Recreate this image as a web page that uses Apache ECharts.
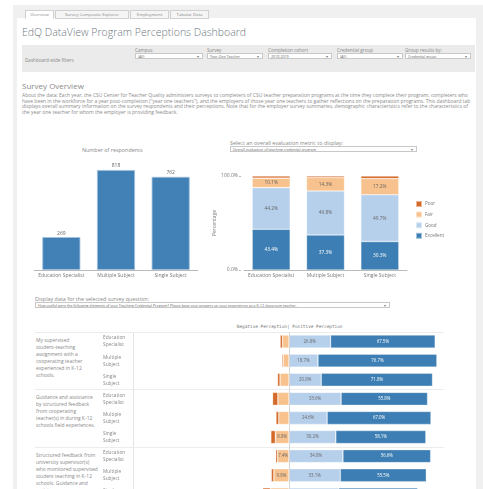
<!DOCTYPE html>
<html>
<head>
<meta charset="utf-8">
<script src="https://cdn.jsdelivr.net/npm/echarts@6/dist/echarts.min.js"></script>
<style>
  html, body { margin: 0; padding: 0; width: 483px; height: 489px; overflow: hidden; background: #fff; font-family: "Open Sans", Lato, sans-serif; color: #777; }
  .abs { position: absolute; white-space: nowrap; }
  #frame { position: absolute; left: 13px; top: 5px; width: 470px; height: 490px; background: #f0f0f0; }
  #inner { position: absolute; left: 17px; top: 18px; width: 459px; height: 480px; background: #fff; }
  .tab { position: absolute; top: 10px; height: 7px; line-height: 7px; font-size: 4.3px; border: 1px solid #d0d0d0; background: #f5f5f5; color: #888; text-align: center; }
  .tab.on { background: #fff; border-bottom-color: #fff; }
  .dd { position: absolute; height: 6px; line-height: 6px; font-size: 3.6px; border: 1px solid #c8c8c8; background: #fff; color: #666; padding-left: 2px; box-sizing: border-box; overflow: hidden; }
  .dd:after { content: "\25BE"; position: absolute; right: 3px; top: 0; font-size: 4px; color: #777; }
  .flab { position: absolute; top: 47px; font-size: 4.6px; color: #888; }
  .q { position: absolute; left: 36px; width: 63px; font-size: 4.95px; line-height: 7px; color: #888; white-space: normal; }
  .sep { position: absolute; left: 35px; width: 409px; height: 1px; background: #ececec; }
  #chart { position: absolute; left: 0; top: 0; width: 483px; height: 520px; z-index: 2; }
</style>
</head>
<body>
<div id="frame"></div>
<div id="inner"></div>

<div class="tab on" style="left:25px;width:27px;">Overview</div>
<div class="tab" style="left:55px;width:72px;">Survey Composite Explorer</div>
<div class="tab" style="left:130px;width:37px;">Employment</div>
<div class="tab" style="left:170px;width:37px;">Tabular Data</div>

<div class="abs" style="left:22px;top:25px;font-size:10.5px;color:#6e7782;font-weight:300;">EdQ DataView Program Perceptions Dashboard</div>

<div class="abs" style="left:22px;top:45px;width:453px;height:27px;background:#ebebeb;"></div>
<div class="abs" style="left:25px;top:57px;font-size:4.6px;color:#888;">Dashboard-wide filters</div>
<div id="filters"></div>

<div class="abs" style="left:22px;top:80px;font-size:8px;color:#8a8a8a;">Survey Overview</div>
<div class="abs" style="left:22px;top:93px;width:453px;font-size:4.98px;line-height:5.7px;color:#8a8a8a;white-space:normal;">About the data: Each year, the CSU Center for Teacher Quality administers surveys to completers of CSU teacher preparation programs at the time they complete their program, completers who have been in the workforce for a year post-completion ("year one teachers"), and the employers of those year one teachers to gather reflections on the preparation programs. This dashboard tab displays overall summary information on the survey respondents and their perceptions. Note that for the employer survey summaries, demographic characteristics refer to the characteristics of the year one teacher for whom the employer is providing feedback.</div>

<div class="abs" style="left:82px;top:146px;font-size:5.4px;color:#888;">Number of respondents</div>
<div class="abs" style="left:230px;top:139px;font-size:5.4px;color:#888;">Select an overall evaluation metric to display:</div>
<div class="dd" style="left:230px;top:146px;width:187px;">Overall evaluation of teaching credential program</div>

<div class="abs" style="left:35px;top:295px;font-size:5.4px;color:#888;">Display data for the selected survey question:</div>
<div class="dd" style="left:35px;top:302px;width:355px;">How useful were the following elements of your Teaching Credential Program? Please base your answers on your experiences as a K-12 classroom teacher.</div>

<div class="abs" style="left:150px;top:324px;width:137px;text-align:right;font-family:'DejaVu Sans Mono',monospace;font-size:4.4px;color:#777;">Negative Perception</div>
<div class="abs" style="left:287px;top:324px;font-family:'DejaVu Sans Mono',monospace;font-size:4.4px;color:#777;">| Positive Perception</div>
<div class="abs" style="left:133px;top:332px;width:1px;height:170px;background:#e4e4e4;"></div>
<div id="table"></div>

<div id="chart"></div>
<script>
// filters
var filterNames = ["Campus", "Survey", "Completion cohort", "Credential group", "Group results by:"];
var filterValues = ["(All)", "Year-One Teacher", "2018-2019", "(All)", "Credential group"];
var filterX = [135, 207, 268, 337, 405];
var filterW = [68, 56, 64, 66, 66];

// chart data
var credentials = ["Education Specialist", "Multiple Subject", "Single Subject"];
var respondents = [269, 818, 762];

var ratings = ["Poor", "Fair", "Good", "Excellent"];
var overallPoor = [2.3, 1.6, 2.8];
var overallFair = [10.1, 14.3, 17.2];
var overallGood = [44.2, 46.8, 49.7];
var overallExcellent = [43.4, 37.3, 30.3];

var questions = [
  "My supervised student\u2011teaching assignment with a cooperating teacher experienced in K\u201112 schools.",
  "Guidance and assistance by structured feedback from cooperating teacher(s) in during K\u201112 schools field experiences.",
  "Structured feedback from university supervisor(s) who monitored supervised student teaching in K\u201112 schools. Guidance and assistance"
];
var rowGroups = ["Education\nSpecialist", "Multiple\nSubject", "Single\nSubject",
                 "Education\nSpecialist", "Multiple\nSubject", "Single\nSubject",
                 "Education\nSpecialist", "Multiple\nSubject", "Single\nSubject"];
var qPoor = [1.5, 0.8, 1.6, 3.4, 1.8, 2.9, 1.2, 1.6, 5.0];
var qFair = [4.2, 3.8, 5.8, 7.2, 6.6, 8.8, 7.4, 9.8, 12.0];
var qGood = [26.8, 18.7, 20.8, 33.6, 24.6, 30.2, 34.8, 33.1, 32.0];
var qExcellent = [67.5, 76.7, 71.8, 55.8, 67.0, 58.1, 56.6, 55.5, 51.0];

var colors = { Poor: "#d46a2a", Fair: "#f8c28e", Good: "#b6d0ec", Excellent: "#3d7fb4" };

var fhtml = "";
for (var i = 0; i < filterNames.length; i++) {
  fhtml += '<div class="flab" style="left:' + filterX[i] + 'px">' + filterNames[i] + '</div>';
  fhtml += '<div class="dd" style="left:' + filterX[i] + 'px;top:53px;width:' + filterW[i] + 'px">' + filterValues[i] + '</div>';
}
document.getElementById("filters").innerHTML = fhtml;

var rowH = 19.1, tableTop = 332;
var thtml = "";
for (var k = 0; k < questions.length; k++) {
  var blockTop = tableTop + k * rowH * 3;
  thtml += '<div class="sep" style="top:' + blockTop + 'px"></div>';
  thtml += '<div class="q" style="top:' + (blockTop + 5) + 'px">' + questions[k] + '</div>';
}
thtml += '<div class="sep" style="top:' + (tableTop + 9 * rowH) + 'px"></div>';
document.getElementById("table").innerHTML = thtml;

var chart = echarts.init(document.getElementById("chart"));

function pct(v) { return v.toFixed(1) + "%"; }

var smallText = { fontSize: 5, color: "#777", fontFamily: "Open Sans" };

var option = {
  animation: false,
  textStyle: { fontFamily: "Open Sans" },
  legend: {
    orient: "vertical", left: 410, top: 195, itemWidth: 6, itemHeight: 6, itemGap: 2.6,
    icon: "rect", data: ratings, textStyle: { fontSize: 4.6, color: "#777", padding: [0, 0, 0, -2] }
  },
  grid: [
    { left: 34, top: 160, width: 164, height: 110 },
    { left: 244, top: 176, width: 163, height: 94 },
    { left: 134, top: tableTop, width: 310, height: rowH * 9 }
  ],
  xAxis: [
    { gridIndex: 0, type: "category", data: credentials, axisLine: { lineStyle: { color: "#bbb" } },
      axisTick: { show: false }, axisLabel: Object.assign({ margin: 3, interval: 0 }, smallText) },
    { gridIndex: 1, type: "category", data: credentials, axisLine: { lineStyle: { color: "#bbb" } },
      axisTick: { show: false }, axisLabel: Object.assign({ margin: 3, interval: 0 }, smallText) },
    { gridIndex: 2, type: "value", min: -100, max: 100, show: false }
  ],
  yAxis: [
    { gridIndex: 0, type: "value", min: 0, max: 900, show: false },
    { gridIndex: 1, type: "value", min: 0, max: 100, interval: 100, offset: 3,
      axisLine: { show: false }, splitLine: { show: false },
      axisTick: { show: true, length: 2, lineStyle: { color: "#bbb" } },
      axisLabel: Object.assign({ margin: 3, formatter: function (v) { return pct(v); } }, smallText),
      name: "Percentage", nameLocation: "middle", nameGap: 24, nameRotate: 90,
      nameTextStyle: { fontSize: 5, color: "#777" } },
    { gridIndex: 2, type: "category", inverse: true, data: rowGroups,
      axisLine: { show: false }, axisTick: { show: false }, splitLine: { show: false },
      axisLabel: { align: "left", margin: 31, fontSize: 4.8, lineHeight: 7, color: "#888", interval: 0 } }
  ],
  series: [
    { type: "bar", xAxisIndex: 0, yAxisIndex: 0, data: respondents, barWidth: 38,
      itemStyle: { color: "#4181b6", borderColor: "#9dc0de", borderWidth: 0.8 },
      label: { show: true, position: "top", distance: 1.5, fontSize: 5, color: "#666" } }
  ]
};

var overall = { Poor: overallPoor, Fair: overallFair, Good: overallGood, Excellent: overallExcellent };
ratings.slice().reverse().forEach(function (r) {
  option.series.push({
    name: r, type: "bar", xAxisIndex: 1, yAxisIndex: 1, stack: "overall", barWidth: 38,
    data: overall[r], itemStyle: { color: colors[r], borderColor: "rgba(255,255,255,0.5)", borderWidth: 0.6 },
    label: { show: r !== "Poor", fontSize: 4.8, color: r === "Excellent" ? "#fff" : "#666",
      formatter: function (p) { return pct(p.value); } }
  });
});

// diverging: negatives stack leftwards from zero (Fair first, then Poor)
var divSeries = [
  { name: "Fair", data: qFair.map(function (v) { return -v; }), labelColor: "#666" },
  { name: "Poor", data: qPoor.map(function (v) { return -v; }), labelColor: "#fff" },
  { name: "Good", data: qGood, labelColor: "#666" },
  { name: "Excellent", data: qExcellent, labelColor: "#fff" }
];
divSeries.forEach(function (s) {
  var ser = {
    name: s.name, type: "bar", xAxisIndex: 2, yAxisIndex: 2, stack: "div", barWidth: 13,
    data: s.data, itemStyle: { color: colors[s.name], borderColor: "rgba(255,255,255,0.5)", borderWidth: 0.6 },
    label: { show: s.name !== "Poor", fontSize: 4.4, color: s.labelColor,
      formatter: function (p) {
        var v = Math.abs(p.value);
        if (s.name === "Fair" && v < 7.3) return "";
        return pct(v);
      } }
  };
  if (s.name === "Good") {
    ser.markLine = { silent: true, symbol: "none", label: { show: false },
      lineStyle: { color: "#d6d6d6", width: 1, type: "solid" }, data: [{ xAxis: 0 }] };
  }
  option.series.push(ser);
});

chart.setOption(option);
</script>
</body>
</html>
